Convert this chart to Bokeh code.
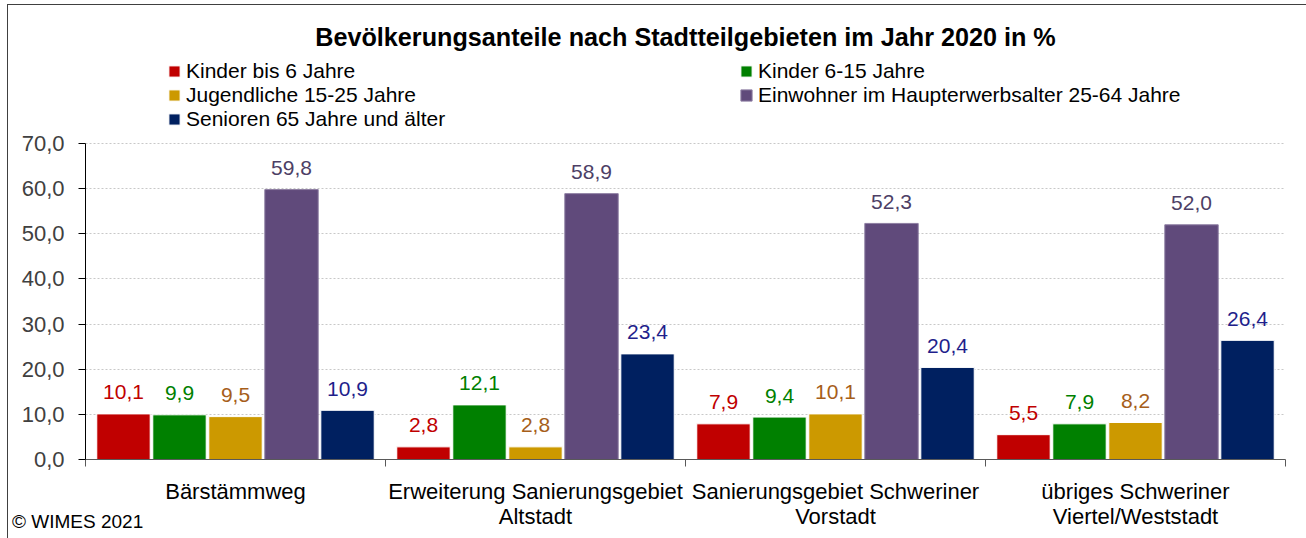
import numpy as np
from bokeh.plotting import figure
from bokeh.layouts import column
from bokeh.models import (Range1d, FixedTicker, Legend, LegendItem, ColumnDataSource, Div, Label)
from bokeh.core.properties import value
from bokeh.embed import file_html
from bokeh.resources import INLINE

# ---- data ----
categories = ["Bärstämmweg",
              "Erweiterung Sanierungsgebiet\nAltstadt",
              "Sanierungsgebiet Schweriner\nVorstadt",
              "übriges Schweriner\nViertel/Weststadt"]
series_names = ["Kinder bis 6 Jahre", "Kinder 6-15 Jahre", "Jugendliche 15-25 Jahre",
                "Einwohner im Haupterwerbsalter 25-64 Jahre", "Senioren 65 Jahre und älter"]
kinder_bis_6 = [10.1, 2.8, 7.9, 5.5]
kinder_6_15 = [9.9, 12.1, 9.4, 7.9]
jugendliche_15_25 = [9.5, 2.8, 10.1, 8.2]
haupterwerb_25_64 = [59.8, 58.9, 52.3, 52.0]
senioren_65 = [10.9, 23.4, 20.4, 26.4]
y_ticks = [0, 10, 20, 30, 40, 50, 60, 70]

series_values = [kinder_bis_6, kinder_6_15, jugendliche_15_25, haupterwerb_25_64, senioren_65]
bar_colors = ["#C00000", "#008000", "#CC9900", "#604A7B", "#002060"]
label_colors = ["#C00000", "#008000", "#A65E1A", "#4D3F66", "#1F1F8C"]
bar_lines = ["white", "white", "white", "#8E7FA3", "white"]

FONT = "Liberation Sans"
TOP_SPACE = 96.15   # y value at the top of the drawing area (room for title and legend)

p = figure(width=1298, height=533, output_backend="svg", toolbar_location=None,
           x_range=Range1d(0, 4), y_range=Range1d(0, TOP_SPACE),
           min_border_left=77, min_border_right=21, min_border_top=20, min_border_bottom=79)
p.outline_line_color = None
p.background_fill_color = "white"
p.border_fill_color = "white"
p.title.visible = False

pitch = 0.1867
group_x = np.arange(len(categories)) + 0.5
renderers = []
for i, (vals, col, lcol, bl) in enumerate(zip(series_values, bar_colors, label_colors, bar_lines)):
    xs = group_x + (i - 2) * pitch
    src = ColumnDataSource(dict(x=xs, top=vals, txt=[f"{v:.1f}".replace(".", ",") for v in vals]))
    r = p.vbar(x="x", top="top", width=0.178, bottom=0, source=src,
               fill_color=col, line_color=bl, line_width=1)
    renderers.append(r)
    p.text(x="x", y="top", text="txt", source=src, text_align="center",
           text_baseline="alphabetic", y_offset=-21.5, text_color=lcol,
           text_font=value(FONT), text_font_size="21px")

# ---- axes ----
p.yaxis.ticker = FixedTicker(ticks=y_ticks)
p.yaxis.bounds = (0, 70)
p.yaxis.major_label_overrides = {t: f"{t},0" for t in y_ticks}
p.yaxis.major_label_text_font = FONT
p.yaxis.major_label_text_font_size = "22px"
p.yaxis.major_label_text_color = "#404040"
p.yaxis.major_tick_out = 7
p.yaxis.major_tick_in = 0
p.yaxis.minor_tick_out = 0
p.yaxis.minor_tick_in = 0
p.yaxis.major_label_standoff = 14
p.yaxis.axis_line_color = "black"
p.yaxis.major_tick_line_color = "black"

p.xaxis.ticker = FixedTicker(ticks=list(group_x), minor_ticks=list(range(len(categories) + 1)))
p.xaxis.major_label_overrides = {float(x): c for x, c in zip(group_x, categories)}
p.xaxis.major_label_text_font = FONT
p.xaxis.major_label_text_font_size = "22px"
p.xaxis.major_label_text_line_height = 1.02
p.xaxis.major_label_text_color = "black"
p.xaxis.major_tick_out = 0
p.xaxis.major_tick_in = 0
p.xaxis.minor_tick_out = 7
p.xaxis.minor_tick_in = 0
p.xaxis.minor_tick_line_color = "#595959"
p.xaxis.axis_line_color = "#595959"
p.xaxis.major_label_standoff = 12

p.xgrid.grid_line_color = None
p.ygrid.grid_line_color = "#C8C8C8"
p.ygrid.grid_line_dash = "2 2"

# ---- title ----
p.add_layout(Label(x=2.0, y=93.5, text="Bevölkerungsanteile nach Stadtteilgebieten im Jahr 2020 in %",
                   text_align="center", text_baseline="middle", text_font=FONT,
                   text_font_style="bold", text_font_size="25.2px", text_color="black"))

# ---- legends ----
def make_legend(idx, loc):
    return Legend(items=[LegendItem(label=series_names[i], renderers=[renderers[i]]) for i in idx],
                  location=loc, orientation="vertical", padding=0, margin=0, spacing=0,
                  glyph_width=14, glyph_height=14, label_height=24, label_standoff=5,
                  label_text_font=FONT, label_text_font_size="21px", label_text_color="black",
                  border_line_color=None, background_fill_alpha=0)

p.add_layout(make_legend([0, 2, 4], (82, 328)), "center")
p.add_layout(make_legend([1, 3], (654, 352)), "center")

footer = Div(text="© WIMES 2021", width=200, height=22,
             styles={"margin-left": "4px", "margin-top": "-27px", "position": "relative",
                     "z-index": "5", "font-family": FONT, "font-size": "19px", "color": "black",
                     "line-height": "22px"})

page = column(p, footer, styles={"margin-left": "7px", "margin-top": "4px",
                                 "border-top": "1px solid #404040",
                                 "border-left": "1px solid #404040"})

open("out.html", "w").write(file_html(page, INLINE))
